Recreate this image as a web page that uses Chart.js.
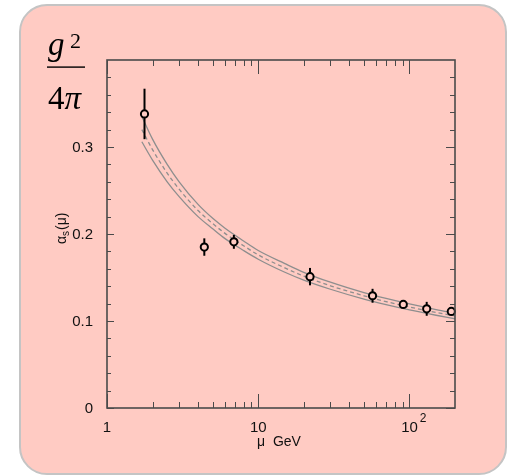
<!DOCTYPE html>
<html>
<head>
<meta charset="utf-8">
<script src="https://cdn.jsdelivr.net/npm/chart.js@4.4.0/dist/chart.umd.min.js"></script>
<style>
  html, body { margin: 0; padding: 0; background: #fff; }
  #wrap { position: relative; width: 512px; height: 475px; }
  #card {
    position: absolute; left: 19px; top: 4px; width: 484px; height: 467px;
    background: #ffcbc3; border: 2px solid #c4c4c4; border-radius: 28px;
  }
  #myChart { position: absolute; left: 0; top: 0; }
</style>
</head>
<body>
<div id="wrap">
  <div id="card"></div>
  <canvas id="myChart" width="512" height="475"></canvas>
</div>
<script>
// running coupling band
const muGrid = [1.7, 2, 2.5, 3, 4, 5, 6, 8, 10, 15, 20, 30, 50, 70, 100, 150, 200];
const bandUpper = [0.335, 0.309, 0.280, 0.260, 0.234, 0.218, 0.207, 0.192, 0.181, 0.166, 0.156, 0.1446, 0.1326, 0.1259, 0.1196, 0.1132, 0.1091];
const bandCentral = [0.320, 0.297, 0.270, 0.2515, 0.227, 0.212, 0.201, 0.1865, 0.176, 0.161, 0.1515, 0.1405, 0.129, 0.1223, 0.1161, 0.1099, 0.1058];
const bandLower = [0.306, 0.285, 0.260, 0.243, 0.220, 0.206, 0.195, 0.181, 0.171, 0.156, 0.147, 0.1365, 0.1252, 0.1188, 0.1127, 0.1066, 0.1026];

// measurements
const measMu = [1.77, 4.4, 6.9, 22, 57, 91, 130, 189];
const measAlpha = [0.338, 0.185, 0.191, 0.151, 0.129, 0.119, 0.114, 0.111];
const measErr = [0.029, 0.010, 0.008, 0.010, 0.008, 0.002, 0.008, 0.003];

// axes
const xMajor = [1, 10, 100];
const xMinor = [2, 3, 4, 5, 6, 7, 8, 9, 20, 30, 40, 50, 60, 70, 80, 90];
const xTickText = ["1", "10", "10"];
const xTickSup = ["", "", "2"];
const yMajor = [0, 0.1, 0.2, 0.3];
const yTickText = ["0", "0.1", "0.2", "0.3"];
const yMinor = [0.02, 0.04, 0.06, 0.08, 0.12, 0.14, 0.16, 0.18, 0.22, 0.24, 0.26, 0.28, 0.32, 0.34, 0.36, 0.38];

const toXY = (xs, ys) => xs.map((v, i) => ({ x: v, y: ys[i] }));

const sans = '"Liberation Sans", Arial, sans-serif';
const serif = '"Liberation Serif", "Times New Roman", serif';

const decorations = {
  id: "decorations",
  beforeDatasetDraw(chart, args) {
    if (args.index !== 3) return;
    const { ctx, scales: { x, y } } = chart;
    ctx.save();
    ctx.strokeStyle = "#000";
    ctx.lineWidth = 2;
    measMu.forEach((m, i) => {
      const px = x.getPixelForValue(m);
      ctx.beginPath();
      ctx.moveTo(px, y.getPixelForValue(measAlpha[i] - measErr[i]));
      ctx.lineTo(px, y.getPixelForValue(measAlpha[i] + measErr[i]));
      ctx.stroke();
    });
    ctx.restore();
  },
  afterDatasetsDraw(chart) {
    const { ctx, chartArea: a, scales: { x, y } } = chart;
    const line = (x1, y1, x2, y2) => {
      ctx.beginPath();
      ctx.moveTo(x1, y1);
      ctx.lineTo(x2, y2);
      ctx.stroke();
    };
    ctx.save();
    ctx.strokeStyle = "#4a4a4a";
    ctx.lineWidth = 1;
    xMinor.forEach((v) => {
      const px = Math.round(x.getPixelForValue(v)) + 0.5;
      line(px, a.bottom, px, a.bottom - 6);
      line(px, a.top, px, a.top + 6);
    });
    xMajor.forEach((v) => {
      const px = Math.round(x.getPixelForValue(v)) + 0.5;
      line(px, a.bottom, px, a.bottom - 14);
      line(px, a.top, px, a.top + 14);
    });
    yMinor.forEach((v) => {
      const py = Math.round(y.getPixelForValue(v)) + 0.5;
      line(a.left, py, a.left + 4, py);
      line(a.right, py, a.right - 5, py);
    });
    yMajor.forEach((v) => {
      const py = Math.round(y.getPixelForValue(v)) + 0.5;
      line(a.left, py, a.left + 7, py);
      line(a.right, py, a.right - 9, py);
    });
    ctx.lineWidth = 1.6;
    ctx.strokeRect(a.left, a.top, a.right - a.left, a.bottom - a.top);
    ctx.restore();
  },
  afterDraw(chart) {
    const { ctx, chartArea: a, scales: { x, y } } = chart;
    ctx.save();
    ctx.fillStyle = "#111";

    // y tick labels
    ctx.font = "15px " + sans;
    ctx.textAlign = "right";
    ctx.textBaseline = "middle";
    yMajor.forEach((v, i) => ctx.fillText(yTickText[i], a.left - 14, y.getPixelForValue(v) + 1));

    // x tick labels
    ctx.textBaseline = "alphabetic";
    xMajor.forEach((v, i) => {
      const px = x.getPixelForValue(v);
      ctx.font = "15px " + sans;
      ctx.textAlign = "center";
      ctx.fillText(xTickText[i], px, a.bottom + 24);
      if (xTickSup[i]) {
        const w = ctx.measureText(xTickText[i]).width;
        ctx.font = "12px " + sans;
        ctx.textAlign = "left";
        ctx.fillText(xTickSup[i], px + w / 2 + 2, a.bottom + 14);
      }
    });

    // x axis title
    ctx.font = "14px " + sans;
    ctx.textAlign = "center";
    ctx.fillText("\u03bc  GeV", (a.left + a.right) / 2 - 2, a.bottom + 38);

    // y axis title, rotated
    ctx.save();
    ctx.translate(66, 244);
    ctx.rotate(-Math.PI / 2);
    ctx.textAlign = "left";
    ctx.font = "14px " + sans;
    ctx.fillText("\u03b1", 0, 0);
    let w = ctx.measureText("\u03b1").width;
    ctx.font = "10px " + sans;
    ctx.fillText("s", w, 3);
    w += ctx.measureText("s").width + 1;
    ctx.font = "14px " + sans;
    ctx.fillText("(\u03bc)", w, 0);
    ctx.restore();

    // g^2 / 4pi
    ctx.fillStyle = "#000";
    ctx.textAlign = "left";
    ctx.font = "italic 33px " + serif;
    ctx.fillText("g", 48, 55);
    ctx.font = "22px " + serif;
    ctx.fillText("2", 70, 48);
    ctx.fillRect(47, 66.4, 38, 1.4);
    ctx.font = "33px " + serif;
    ctx.fillText("4", 48, 109);
    const w4 = ctx.measureText("4").width;
    ctx.font = "italic 33px " + serif;
    ctx.fillText("\u03c0", 48 + w4, 109);
    ctx.restore();
  },
};

const bandStyle = {
  borderColor: "#8e8e8e",
  borderWidth: 1.3,
  pointRadius: 0,
  cubicInterpolationMode: "monotone",
  fill: false,
  order: 2,
};

new Chart(document.getElementById("myChart"), {
  type: "line",
  data: {
    datasets: [
      { ...bandStyle, label: "upper", data: toXY(muGrid, bandUpper) },
      { ...bandStyle, label: "central", data: toXY(muGrid, bandCentral), borderDash: [4, 3] },
      { ...bandStyle, label: "lower", data: toXY(muGrid, bandLower) },
      {
        label: "data",
        data: toXY(measMu, measAlpha),
        showLine: false,
        pointRadius: 3.6,
        pointBorderWidth: 2,
        pointBorderColor: "#000",
        pointBackgroundColor: "#ffcbc3",
        clip: false,
        order: 0,
      },
    ],
  },
  options: {
    responsive: false,
    devicePixelRatio: 1,
    animation: false,
    layout: { padding: { left: 107, right: 57, top: 60, bottom: 67 } },
    plugins: { legend: { display: false }, tooltip: { enabled: false } },
    scales: {
      x: { type: "logarithmic", min: 1, max: 200, display: false },
      y: { type: "linear", min: 0, max: 0.4, display: false },
    },
  },
  plugins: [decorations],
});
</script>
</body>
</html>
